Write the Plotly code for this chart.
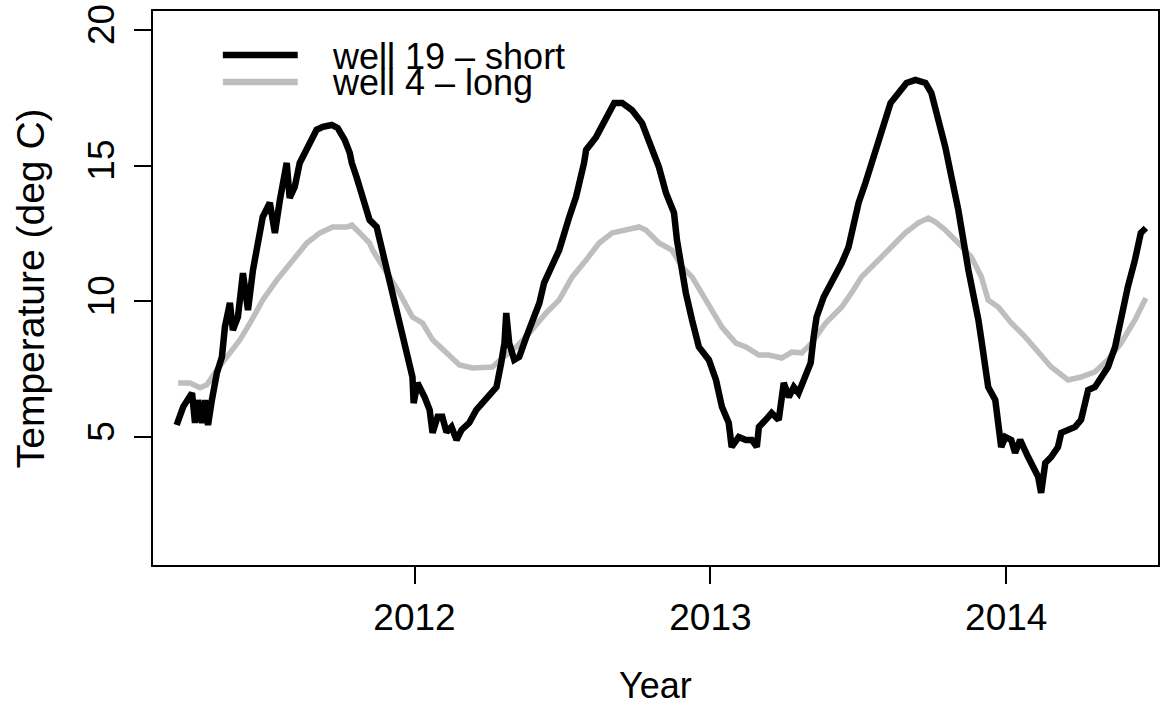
import plotly.graph_objects as go

# ---- data (decimal year, temperature in deg C) ----
short_year = [2011.196, 2011.218, 2011.248, 2011.258, 2011.268, 2011.282, 2011.292, 2011.302, 2011.315,
              2011.332, 2011.349, 2011.359, 2011.376, 2011.386, 2011.403, 2011.420, 2011.437, 2011.454,
              2011.477, 2011.487, 2011.511, 2011.528, 2011.545, 2011.568, 2011.578, 2011.595, 2011.612,
              2011.636, 2011.669, 2011.690, 2011.720, 2011.740, 2011.764, 2011.781, 2011.788, 2011.804,
              2011.825, 2011.848, 2011.872, 2011.906, 2011.939, 2011.973, 2011.993, 2011.997, 2012.010,
              2012.034, 2012.051, 2012.061, 2012.078, 2012.094, 2012.108, 2012.125, 2012.142, 2012.159,
              2012.185, 2012.209, 2012.229, 2012.253, 2012.277, 2012.293, 2012.304, 2012.310, 2012.320,
              2012.337, 2012.354, 2012.378, 2012.398, 2012.422, 2012.438, 2012.465, 2012.489, 2012.523,
              2012.546, 2012.573, 2012.580, 2012.614, 2012.648, 2012.675, 2012.702, 2012.735, 2012.769,
              2012.803, 2012.826, 2012.850, 2012.877, 2012.887, 2012.900, 2012.917, 2012.938, 2012.961,
              2012.995, 2013.019, 2013.039, 2013.062, 2013.072, 2013.096, 2013.120, 2013.140, 2013.157,
              2013.164, 2013.187, 2013.207, 2013.231, 2013.248, 2013.265, 2013.282, 2013.298, 2013.322,
              2013.339, 2013.349, 2013.359, 2013.383, 2013.410, 2013.444, 2013.467, 2013.491, 2013.501,
              2013.524, 2013.545, 2013.568, 2013.595, 2013.609, 2013.636, 2013.663, 2013.693, 2013.727,
              2013.747, 2013.771, 2013.794, 2013.815, 2013.838, 2013.872, 2013.889, 2013.906, 2013.916,
              2013.929, 2013.939, 2013.963, 2013.973, 2013.983, 2013.997, 2014.017, 2014.030, 2014.047,
              2014.074, 2014.098, 2014.108, 2014.118, 2014.132, 2014.152, 2014.175, 2014.186, 2014.209,
              2014.233, 2014.253, 2014.266, 2014.277, 2014.300, 2014.320, 2014.344, 2014.368, 2014.388,
              2014.411, 2014.435, 2014.455, 2014.472]
short_temp = [5.44, 6.11, 6.62, 5.52, 6.36, 5.52, 6.36, 5.44, 6.36,
              7.36, 7.95, 9.05, 9.94, 8.94, 9.42, 11.04, 9.68, 11.16,
              12.52, 13.11, 13.63, 12.52, 13.74, 15.10, 13.81, 14.21, 15.10,
              15.58, 16.32, 16.43, 16.50, 16.39, 15.95, 15.47, 15.10, 14.58,
              13.85, 13.00, 12.74, 11.16, 9.68, 8.21, 7.21, 6.25, 6.99,
              6.47, 6.00, 5.15, 5.74, 5.74, 5.18, 5.37, 4.89, 5.26,
              5.52, 6.00, 6.25, 6.47, 6.84, 7.73, 8.46, 9.57, 8.46,
              7.84, 7.95, 8.69, 9.20, 9.94, 10.68, 11.27, 11.89, 13.11,
              13.85, 15.10, 15.58, 16.06, 16.80, 17.31, 17.31, 17.05, 16.57,
              15.69, 14.95, 13.99, 13.26, 12.26, 11.27, 10.31, 9.31, 8.32,
              7.84, 7.10, 6.11, 5.52, 4.63, 5.00, 4.89, 4.89, 4.63,
              5.37, 5.63, 5.88, 5.63, 6.99, 6.47, 6.84, 6.62, 7.21,
              7.73, 8.69, 9.42, 10.16, 10.68, 11.41, 12.00, 13.11, 13.63,
              14.36, 15.10, 15.95, 16.80, 17.31, 17.68, 18.05, 18.16, 18.05,
              17.68, 16.68, 15.69, 14.58, 13.37, 11.16, 10.31, 9.31, 8.58,
              7.58, 6.84, 6.36, 5.37, 4.63, 5.00, 4.89, 4.41, 4.89,
              4.26, 3.78, 3.53, 2.94, 4.04, 4.26, 4.63, 5.15, 5.26,
              5.37, 5.63, 6.36, 6.73, 6.84, 7.21, 7.58, 8.32, 9.42,
              10.53, 11.52, 12.52, 12.70]

long_year = [2011.201, 2011.241, 2011.275, 2011.298, 2011.332, 2011.366, 2011.410, 2011.444, 2011.487,
             2011.535, 2011.589, 2011.636, 2011.680, 2011.723, 2011.771, 2011.788, 2011.815, 2011.848,
             2011.858, 2011.906, 2011.949, 2011.993, 2012.027, 2012.061, 2012.108, 2012.152, 2012.196,
             2012.263, 2012.297, 2012.344, 2012.388, 2012.445, 2012.489, 2012.533, 2012.580, 2012.624,
             2012.668, 2012.715, 2012.759, 2012.782, 2012.826, 2012.870, 2012.904, 2012.938, 2012.971,
             2013.005, 2013.039, 2013.086, 2013.120, 2013.164, 2013.197, 2013.241, 2013.275, 2013.309,
             2013.342, 2013.390, 2013.444, 2013.477, 2013.511, 2013.558, 2013.612, 2013.659, 2013.703,
             2013.737, 2013.761, 2013.794, 2013.838, 2013.882, 2013.916, 2013.939, 2013.973, 2014.017,
             2014.064, 2014.108, 2014.152, 2014.209, 2014.253, 2014.300, 2014.344, 2014.388, 2014.435,
             2014.472]
long_temp = [6.99, 6.99, 6.81, 6.92, 7.47, 7.95, 8.58, 9.20, 10.05,
             10.79, 11.52, 12.15, 12.52, 12.74, 12.74, 12.81, 12.52, 12.15,
             11.89, 11.04, 10.31, 9.42, 9.20, 8.58, 8.10, 7.65, 7.54,
             7.58, 7.91, 8.32, 8.83, 9.57, 10.05, 10.90, 11.52, 12.15,
             12.52, 12.63, 12.74, 12.63, 12.15, 11.89, 11.27, 10.90, 10.31,
             9.68, 9.05, 8.46, 8.32, 8.02, 8.02, 7.91, 8.13, 8.10,
             8.46, 9.20, 9.79, 10.31, 10.90, 11.41, 12.00, 12.52, 12.89,
             13.07, 12.92, 12.63, 12.15, 11.63, 10.90, 10.05, 9.79, 9.20,
             8.69, 8.10, 7.58, 7.10, 7.21, 7.40, 7.84, 8.46, 9.31,
             10.12]

series_names = ["well 19 \u2013 short", "well 4 \u2013 long"]
series_colors = ["#000000", "#bebebe"]
x_ticks = [2012, 2013, 2014]
y_ticks = [5, 10, 15, 20]

FONT = "Liberation Sans, Arial, Helvetica, sans-serif"

fig = go.Figure()
fig.add_trace(go.Scatter(x=long_year, y=long_temp, mode="lines", name=series_names[1],
                         line=dict(color=series_colors[1], width=5.5), showlegend=False))
fig.add_trace(go.Scatter(x=short_year, y=short_temp, mode="lines", name=series_names[0],
                         line=dict(color=series_colors[0], width=6.5), showlegend=False))

axis_common = dict(showline=True, linecolor="black", linewidth=1.5, mirror=True,
                   ticks="outside", ticklen=17, tickwidth=1.5, tickcolor="black",
                   showgrid=False, zeroline=False,
                   tickfont=dict(family=FONT, size=37, color="black"))

fig.update_xaxes(range=[2011.116, 2014.513], tickvals=x_ticks,
                 ticktext=[str(v) for v in x_ticks], ticklabelstandoff=2, **axis_common)
fig.update_yaxes(range=[0.28, 20.70], tickvals=y_ticks,
                 ticktext=[str(v) for v in y_ticks], tickangle=-90, ticklabelstandoff=5, **axis_common)

# legend drawn manually (R-style compact legend)
leg_y = [0.9206, 0.8718]
leg_text_y = [0.9179, 0.8709]
for i in range(2):
    fig.add_shape(type="line", xref="paper", yref="paper", x0=0.0695, x1=0.1440,
                  y0=leg_y[i], y1=leg_y[i], line=dict(color=series_colors[i], width=6.5))
    fig.add_annotation(xref="paper", yref="paper", x=0.1768, y=leg_text_y[i], xanchor="left",
                       yanchor="middle", text=series_names[i], showarrow=False, borderpad=0,
                       font=dict(family=FONT, size=36, color="black"))

fig.add_annotation(xref="paper", yref="paper", x=0.5, y=-0.2175, xanchor="center", yanchor="middle",
                   text="Year", showarrow=False, borderpad=0,
                   font=dict(family=FONT, size=36, color="black"))
fig.add_annotation(xref="paper", yref="paper", x=-0.1221, y=0.5, xanchor="center", yanchor="middle",
                   text="Temperature (deg C)", textangle=-90, showarrow=False, borderpad=0,
                   font=dict(family=FONT, size=39, color="black"))

fig.update_layout(width=1162, height=706, margin=dict(l=153, r=2, t=11, b=141),
                  paper_bgcolor="white", plot_bgcolor="white")

fig.write_html("out.html")
